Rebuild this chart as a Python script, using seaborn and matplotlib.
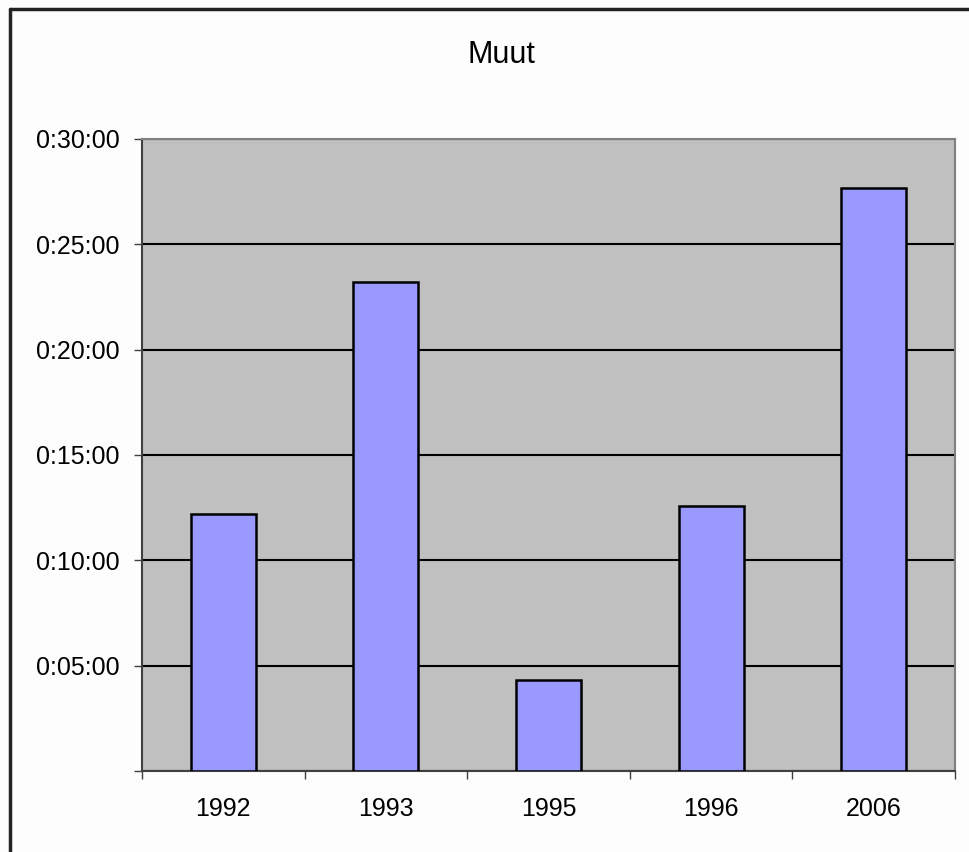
import matplotlib
matplotlib.use("Agg")
import matplotlib.pyplot as plt
import numpy as np
import pandas as pd
import seaborn as sns
from matplotlib.lines import Line2D
from matplotlib.ticker import FuncFormatter, FixedLocator

years = ["1992", "1993", "1995", "1996", "2006"]
minutes = [12.2, 23.2, 4.33, 12.6, 27.67]
y_ticks = [0, 5, 10, 15, 20, 25, 30]

df = pd.DataFrame({"year": years, "minutes": minutes})

sns.set_style("white")
plt.rcParams["font.family"] = ["Liberation Sans", "DejaVu Sans"]
plt.rcParams["text.color"] = "black"
plt.rcParams["xtick.color"] = "black"
plt.rcParams["ytick.color"] = "black"


def fmt_time(v, _):
    # Excel leaves the zero label blank on this chart
    if v == 0:
        return ""
    return f"0:{int(v):02d}:00"


fig = plt.figure(figsize=(9.69, 8.52), dpi=100)
fig.patch.set_facecolor("#fdfdfd")
ax = fig.add_axes([142 / 969, 1 - 771 / 852, 813 / 969, 632 / 852])
ax.set_facecolor("#c0c0c0")

sns.barplot(data=df, x="year", y="minutes", color="#9999ff", saturation=1,
            width=0.4, edgecolor="black", linewidth=1.8, ax=ax, zorder=3)

ax.set_ylim(0, 30)
ax.set_xlim(-0.5, len(years) - 0.5)
ax.yaxis.set_major_locator(FixedLocator(y_ticks))
ax.yaxis.set_major_formatter(FuncFormatter(fmt_time))
ax.grid(axis="y", color="black", linewidth=1.5, zorder=1)
ax.set_axisbelow(True)

# category ticks sit between the bars
ax.xaxis.set_minor_locator(FixedLocator(np.arange(-0.5, len(years), 1.0)))
ax.tick_params(axis="x", which="major", bottom=True, length=0, pad=19, labelsize=18)
ax.tick_params(axis="x", which="minor", bottom=True, length=6, width=1,
               color="#404040", direction="out")
ax.tick_params(axis="y", left=True, length=6, width=1, color="#404040",
               direction="out", pad=10, labelsize=18)

for side in ["top", "right", "left", "bottom"]:
    ax.spines[side].set_color("#808080")
    ax.spines[side].set_linewidth(1.5)
ax.spines["left"].set_color("#404040")
ax.spines["bottom"].set_color("#404040")

ax.set_xlabel("")
ax.set_ylabel("")
fig.text(501 / 969, 1 - 55 / 852, "Muut", ha="center", va="center", fontsize=22)

# outer chart frame (left and top edges only visible)
fig.add_artist(Line2D([10 / 969, 10 / 969], [0, 1 - 9 / 852], color="#222222", linewidth=2.5))
fig.add_artist(Line2D([10 / 969, 1], [1 - 9 / 852, 1 - 9 / 852], color="#222222", linewidth=2.5))

fig.savefig("out.png", dpi=100, facecolor=fig.get_facecolor())
